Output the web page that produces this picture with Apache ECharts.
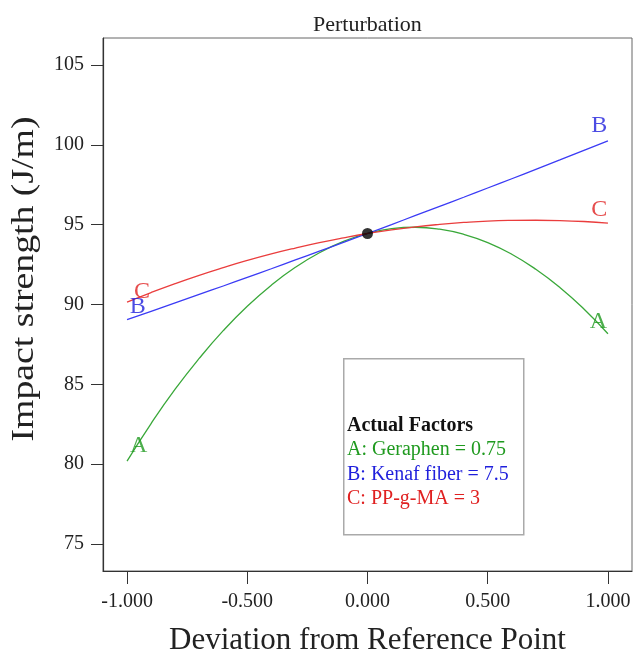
<!DOCTYPE html>
<html>
<head>
<meta charset="utf-8">
<script src="https://cdn.jsdelivr.net/npm/echarts@6/dist/echarts.min.js"></script>
<style>html,body{margin:0;padding:0;background:#fff}#c{width:633px;height:655px}</style>
</head>
<body>
<div id="c"></div>
<script>
// deviation values (x) and responses
var xs = [-1, -0.9, -0.8, -0.7, -0.6, -0.5, -0.4, -0.3, -0.2, -0.1, 0,
          0.1, 0.2, 0.3, 0.4, 0.5, 0.6, 0.7, 0.8, 0.9, 1];
var seriesA = [80.19, 82.54, 84.69, 86.62, 88.36, 89.89, 91.21, 92.33, 93.24, 93.95, 94.45,
               94.75, 94.84, 94.72, 94.40, 93.88, 93.15, 92.21, 91.07, 89.72, 88.17];
var seriesB = [89.05, 89.57, 90.10, 90.63, 91.16, 91.70, 92.24, 92.79, 93.34, 93.89, 94.45,
               95.01, 95.58, 96.15, 96.72, 97.30, 97.88, 98.47, 99.06, 99.66, 100.25];
var seriesC = [90.15, 90.75, 91.31, 91.83, 92.31, 92.76, 93.17, 93.54, 93.88, 94.18, 94.45,
               94.68, 94.87, 95.02, 95.14, 95.23, 95.27, 95.28, 95.26, 95.20, 95.10];
var refPoint = [0, 94.45];
var xTicks = [-1, -0.5, 0, 0.5, 1];
var yTicks = [75, 80, 85, 90, 95, 100, 105];
var labelsA = [[-0.952, 81.15], [0.96, 88.95]];
var labelsB = [[-0.955, 89.87], [0.964, 101.2]];
var labelsC = [[-0.938, 90.8], [0.964, 95.95]];
var factorTitle = 'Actual Factors';
var factorLines = ['A: Geraphen = 0.75', 'B: Kenaf fiber = 7.5', 'C: PP-g-MA = 3'];
var yName = 'Impact strength (J/m)';

var FONT = '"Liberation Serif", "Times New Roman", serif';
var colA = '#3aa83a', colB = '#3b3bf5', colC = '#ea3d3d';
var txtA = '#1f9a1f', txtB = '#1f1fdc', txtC = '#e02020';

function pair(arr) { return xs.map(function (x, i) { return [x, arr[i]]; }); }
function lblSeries(pts, color, txt) {
  return {
    type: 'scatter', data: pts, symbol: 'circle', symbolSize: 1, silent: true, z: 4,
    itemStyle: { color: 'rgba(0,0,0,0)' },
    label: { show: true, formatter: txt, position: 'inside', color: color,
      fontFamily: FONT, fontSize: 24 }
  };
}

var chart = echarts.init(document.getElementById('c'));
chart.setOption({
  animation: false,
  title: { text: 'Perturbation', left: 308, top: 9,
    textStyle: { fontFamily: FONT, fontSize: 22, fontWeight: 'normal', color: '#222' } },
  grid: { left: 103, top: 38, right: 1, bottom: 84, show: true, borderColor: '#666', borderWidth: 1,
    containLabel: false, outerBoundsMode: 'none' },
  xAxis: {
    type: 'value', min: -1.1, max: 1.1,
    name: 'Deviation from Reference Point', nameLocation: 'middle', nameGap: 54,
    nameTextStyle: { fontFamily: FONT, fontSize: 31, color: '#222' },
    axisLine: { show: true, onZero: false, lineStyle: { color: '#333', width: 1.2 } },
    axisTick: { show: true, length: 13, customValues: xTicks, lineStyle: { color: '#333' } },
    axisLabel: { customValues: xTicks, margin: 21, fontFamily: FONT, fontSize: 20, color: '#222',
      formatter: function (v) { return v.toFixed(3); } },
    splitLine: { show: false }
  },
  yAxis: {
    type: 'value', min: 73.3, max: 106.7,
    axisLine: { show: true, onZero: false, lineStyle: { color: '#333', width: 1.2 } },
    axisTick: { show: true, length: 12, customValues: yTicks, lineStyle: { color: '#333' } },
    axisLabel: { customValues: yTicks, margin: 19, fontFamily: FONT, fontSize: 20, color: '#222' },
    splitLine: { show: false }
  },
  series: [
    { type: 'line', data: pair(seriesA), smooth: true, showSymbol: false, lineStyle: { color: colA, width: 1.3 } },
    { type: 'line', data: pair(seriesB), smooth: true, showSymbol: false, lineStyle: { color: colB, width: 1.3 } },
    { type: 'line', data: pair(seriesC), smooth: true, showSymbol: false, lineStyle: { color: colC, width: 1.3 } },
    lblSeries(labelsA, txtA, 'A'),
    lblSeries(labelsB, txtB, 'B'),
    lblSeries(labelsC, txtC, 'C'),
    { type: 'scatter', data: [refPoint], symbolSize: 11, itemStyle: { color: '#000' }, z: 5 }
  ],
  graphic: [
    { type: 'text', x: 25, y: 279, rotation: Math.PI / 2, scaleX: 1.18, z: 3,
      style: { text: yName, fontFamily: FONT, fontSize: 32, fill: '#222',
        textAlign: 'center', textVerticalAlign: 'middle' } },
    { type: 'rect', left: 343, top: 358, shape: { width: 180, height: 176 },
      style: { fill: '#fff', stroke: '#aaa', lineWidth: 1.5 }, z: 1 },
    { type: 'text', left: 347, top: 416, z: 2,
      style: { text: factorTitle, fontFamily: FONT, fontSize: 20, fontWeight: 'bold', fill: '#111' } },
    { type: 'text', left: 347, top: 440, z: 2,
      style: { text: factorLines[0], fontFamily: FONT, fontSize: 20, fill: txtA } },
    { type: 'text', left: 347, top: 465, z: 2,
      style: { text: factorLines[1], fontFamily: FONT, fontSize: 20, fill: txtB } },
    { type: 'text', left: 347, top: 489, z: 2,
      style: { text: factorLines[2], fontFamily: FONT, fontSize: 20, fill: txtC } }
  ]
});
</script>
</body>
</html>
